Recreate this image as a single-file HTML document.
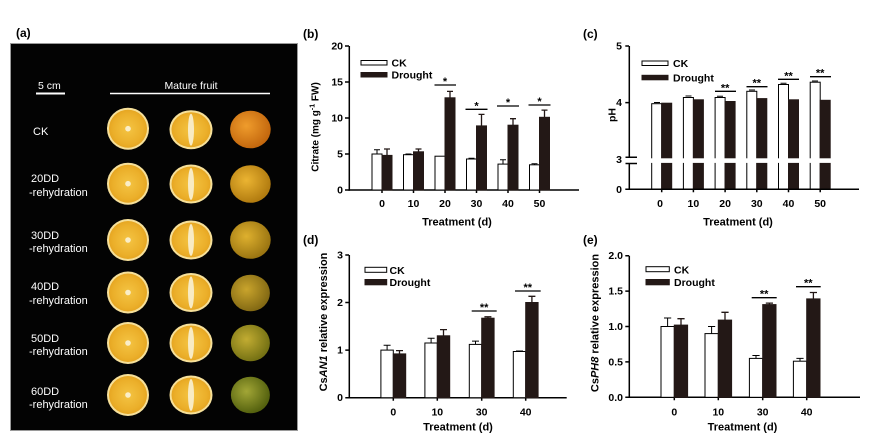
<!DOCTYPE html>
<html><head><meta charset="utf-8"><style>
html,body{margin:0;padding:0;background:#fff;}
svg{display:block;font-family:"Liberation Sans",Arial,sans-serif;}
.b{font-weight:bold;}
</style></head><body>
<svg width="869" height="446" viewBox="0 0 869 446" xmlns="http://www.w3.org/2000/svg">
<defs>
<radialGradient id="pulp" cx="50%" cy="50%" r="50%"><stop offset="0" stop-color="#f4c443"/><stop offset="0.8" stop-color="#ebaf2a"/><stop offset="1" stop-color="#e6a622"/></radialGradient>
<radialGradient id="w1" cx="40%" cy="40%" r="60%"><stop offset="0" stop-color="#ef9c2c"/><stop offset="1" stop-color="#c4680e"/></radialGradient>
<radialGradient id="w2" cx="40%" cy="40%" r="60%"><stop offset="0" stop-color="#ebb432"/><stop offset="1" stop-color="#b27c10"/></radialGradient>
<radialGradient id="w3" cx="40%" cy="40%" r="60%"><stop offset="0" stop-color="#deb02e"/><stop offset="1" stop-color="#9c7612"/></radialGradient>
<radialGradient id="w4" cx="40%" cy="40%" r="60%"><stop offset="0" stop-color="#c9a42c"/><stop offset="1" stop-color="#846a14"/></radialGradient>
<radialGradient id="w5" cx="40%" cy="40%" r="60%"><stop offset="0" stop-color="#c2ac32"/><stop offset="1" stop-color="#767214"/></radialGradient>
<radialGradient id="w6" cx="40%" cy="40%" r="60%"><stop offset="0" stop-color="#a2a636"/><stop offset="1" stop-color="#55620f"/></radialGradient>
<g id="h1"><circle r="21" fill="#f6e09a"/><circle r="19" fill="url(#pulp)"/><circle r="2.8" fill="#faeec8"/></g>
<g id="h2"><ellipse rx="21.5" ry="19.5" fill="#f6e09a"/><ellipse rx="19.5" ry="17.5" fill="url(#pulp)"/><ellipse rx="3" ry="16" fill="#f8ebc4"/></g>
</defs>
<rect width="869" height="446" fill="#fff"/>

<!-- Panel a -->
<text x="16" y="37" class="b" font-size="12">(a)</text>
<rect x="10.5" y="43.5" width="287" height="387" fill="#030303" stroke="#9a9a9a" stroke-width="1"/>
<text x="38" y="89" fill="#fff" font-size="10.5">5 cm</text>
<line x1="36" y1="93.5" x2="65" y2="93.5" stroke="#fff" stroke-width="2"/>
<text x="191" y="89" fill="#fff" font-size="10.5" text-anchor="middle">Mature fruit</text>
<line x1="110" y1="93.5" x2="270" y2="93.5" stroke="#fff" stroke-width="1.5"/>
<g fill="#fff" font-size="11">
<text x="33" y="135">CK</text>
<text x="31" y="182">20DD</text><text x="29" y="196">-rehydration</text>
<text x="31" y="239">30DD</text><text x="29" y="252">-rehydration</text>
<text x="31" y="290">40DD</text><text x="29" y="304">-rehydration</text>
<text x="31" y="342">50DD</text><text x="29" y="355">-rehydration</text>
<text x="31" y="395">60DD</text><text x="29" y="408">-rehydration</text>
</g>
<use href="#h1" x="128" y="128.7"/><use href="#h2" x="191" y="129.7"/><ellipse cx="250.4" cy="129.5" rx="20.3" ry="18.8" fill="url(#w1)"/>
<use href="#h1" x="128" y="183.7"/><use href="#h2" x="191" y="184"/><ellipse cx="250.4" cy="184" rx="20.3" ry="18.8" fill="url(#w2)"/>
<use href="#h1" x="128" y="240"/><use href="#h2" x="191" y="240"/><ellipse cx="250.4" cy="240" rx="20.3" ry="18.8" fill="url(#w3)"/>
<use href="#h1" x="128" y="292.5"/><use href="#h2" x="191" y="292.5"/><ellipse cx="250.4" cy="293" rx="19.5" ry="18.3" fill="url(#w4)"/>
<use href="#h1" x="128" y="343"/><use href="#h2" x="191" y="343"/><ellipse cx="250.4" cy="343" rx="19.5" ry="18.3" fill="url(#w5)"/>
<use href="#h1" x="128" y="395"/><use href="#h2" x="191" y="395"/><ellipse cx="250.4" cy="395" rx="19.5" ry="18.3" fill="url(#w6)"/>

<!-- Panel b -->
<text x="303" y="38" class="b" font-size="12">(b)</text>
<g stroke="#000" stroke-width="1.5" fill="none">
<line x1="349.3" y1="46" x2="349.3" y2="190.7"/>
<line x1="348.5" y1="190" x2="579" y2="190"/>
<path d="M345 46H349M345 82H349M345 118H349M345 154H349M345 190H349"/>
<path d="M382 190V193M413.5 190V193M445 190V193M476.5 190V193M508 190V193M539.5 190V193"/>
</g>
<g class="b" font-size="10.5" text-anchor="end">
<text x="343" y="49.5">20</text><text x="343" y="85.5">15</text><text x="343" y="121.5">10</text><text x="343" y="157.5">5</text><text x="343" y="193.5">0</text>
</g>
<g class="b" font-size="10.5" text-anchor="middle">
<text x="382" y="207">0</text><text x="413.5" y="207">10</text><text x="445" y="207">20</text><text x="476.5" y="207">30</text><text x="508" y="207">40</text><text x="539.5" y="207">50</text>
<text x="457" y="225.5" font-size="11">Treatment (d)</text>
</g>
<text transform="rotate(-90 318.5 127)" x="318.5" y="127" class="b" font-size="10" text-anchor="middle">Citrate (mg g<tspan font-size="7" dy="-4">-1</tspan><tspan dy="4"> FW)</tspan></text>
<g stroke="#000" stroke-width="1">
<rect x="372" y="154" width="10" height="36" fill="#fff"/>
<rect x="403.5" y="154.7" width="10" height="35.3" fill="#fff"/>
<rect x="435" y="156.2" width="10" height="33.8" fill="#fff"/>
<rect x="466.5" y="159" width="10" height="31" fill="#fff"/>
<rect x="498" y="164.1" width="10" height="25.9" fill="#fff"/>
<rect x="529.5" y="164.8" width="10" height="25.2" fill="#fff"/>
<path d="M377 154V149.7M374 149.7H380M408.5 154.7V154M405.5 154H411.5M471.5 159V158.3M468.5 158.3H474.5M503 164.1V159.8M500 159.8H506M534.5 164.8V163.7M531.5 163.7H537.5" fill="none"/>
<g fill="#231816" stroke="#231816">
<rect x="382" y="155.4" width="10" height="34.6"/>
<rect x="413.5" y="151.8" width="10" height="38.2"/>
<rect x="445" y="97.8" width="10" height="92.2"/>
<rect x="476.5" y="125.9" width="10" height="64.1"/>
<rect x="508" y="125.2" width="10" height="64.8"/>
<rect x="539.5" y="117.3" width="10" height="72.7"/>
</g>
<path d="M387 155.4V149M384 149H390M418.5 151.8V149M415.5 149H421.5M450 97.8V91.4M447 91.4H453M481.5 125.9V114.4M478.5 114.4H484.5M513 125.2V118.7M510 118.7H516M544.5 117.3V110.1M541.5 110.1H547.5" fill="none" stroke="#231816" stroke-width="1.3"/>
<path d="M434.5 85H456M465.5 109.3H487.5M497 106H519M528.5 105H550.5" stroke-width="1.3"/>
</g>
<g class="b" font-size="11" text-anchor="middle">
<text x="445" y="85">*</text><text x="476.5" y="109.3">*</text><text x="508" y="106">*</text><text x="539.5" y="105">*</text>
</g>
<rect x="361" y="60.5" width="26" height="4.5" fill="#fff" stroke="#000" stroke-width="1"/>
<rect x="361" y="72.5" width="26" height="4.5" fill="#231816" stroke="#231816" stroke-width="1"/>
<g class="b" font-size="10.5"><text x="391.5" y="66.5">CK</text><text x="391.5" y="78.5">Drought</text></g>

<!-- Panel c -->
<text x="583" y="38" class="b" font-size="12">(c)</text>
<g stroke="#000" stroke-width="1">
<rect x="651.7" y="103.7" width="10" height="85.6" fill="#fff"/>
<rect x="683.4" y="97.5" width="10" height="91.8" fill="#fff"/>
<rect x="715.1" y="97.5" width="10" height="91.8" fill="#fff"/>
<rect x="746.8" y="91.3" width="10" height="98" fill="#fff"/>
<rect x="778.5" y="84.5" width="10" height="104.8" fill="#fff"/>
<rect x="810.2" y="82.2" width="10" height="107.1" fill="#fff"/>
<g fill="#231816" stroke="#231816">
<rect x="661.7" y="103.2" width="10" height="86.1"/>
<rect x="693.4" y="99.8" width="10" height="89.5"/>
<rect x="725.1" y="101.5" width="10" height="87.8"/>
<rect x="756.8" y="98.6" width="10" height="90.7"/>
<rect x="788.5" y="99.8" width="10" height="89.5"/>
<rect x="820.2" y="100.3" width="10" height="89"/>
</g>
<path d="M654 102.5H660M685.5 96H691.5M717 96.3H723M749 90H755M780.5 83.2H786.5M812 81H818" fill="none"/>
<path d="M715 91.3H736M746.5 86.7H767.5M778 79.3H799M810 76.7H831" fill="none" stroke-width="1.3"/>
</g>
<rect x="640" y="158.3" width="200" height="4.6" fill="#fff"/>
<g stroke="#000" stroke-width="1.5" fill="none">
<line x1="629.3" y1="46" x2="629.3" y2="157.3"/>
<line x1="629.3" y1="163.5" x2="629.3" y2="190"/>
<line x1="628.5" y1="189.3" x2="859" y2="189.3"/>
<path d="M625.5 157.3H637M625.5 163.5H637"/>
<path d="M625.3 46H629M625.3 102.6H629M625.3 189.3H629"/>
<path d="M661.7 189.3V192.3M693.4 189.3V192.3M725.1 189.3V192.3M756.8 189.3V192.3M788.5 189.3V192.3M820.2 189.3V192.3"/>
</g>
<g class="b" font-size="10.5" text-anchor="end">
<text x="622" y="49.5">5</text><text x="622" y="106">4</text><text x="622" y="163">3</text><text x="622" y="193">0</text>
</g>
<g class="b" font-size="10.5" text-anchor="middle">
<text x="660" y="207">0</text><text x="693.4" y="207">10</text><text x="725.1" y="207">20</text><text x="756.8" y="207">30</text><text x="788.5" y="207">40</text><text x="820.2" y="207">50</text>
<text x="738" y="225.5" font-size="11">Treatment (d)</text>
</g>
<text transform="rotate(-90 615.5 115)" x="615.5" y="115" class="b" font-size="10.5" text-anchor="middle">pH</text>
<g class="b" font-size="11" text-anchor="middle">
<text x="725.1" y="91.3">**</text><text x="756.8" y="86.7">**</text><text x="788.5" y="79.3">**</text><text x="820.2" y="76.7">**</text>
</g>
<rect x="642" y="61" width="26" height="4.5" fill="#fff" stroke="#000" stroke-width="1"/>
<rect x="642" y="75.3" width="26" height="4.5" fill="#231816" stroke="#231816" stroke-width="1"/>
<g class="b" font-size="10.5"><text x="673" y="67">CK</text><text x="673" y="81.3">Drought</text></g>

<!-- Panel d -->
<text x="303" y="244" class="b" font-size="12">(d)</text>
<g stroke="#000" stroke-width="1.5" fill="none">
<line x1="349.3" y1="255" x2="349.3" y2="398.4"/>
<line x1="348.5" y1="397.7" x2="566.7" y2="397.7"/>
<path d="M345.3 255H349M345.3 302.5H349M345.3 350.1H349M345.3 397.7H349"/>
<path d="M393.3 397.7V400.7M437.3 397.7V400.7M481.7 397.7V400.7M525.7 397.7V400.7"/>
</g>
<g class="b" font-size="10.5" text-anchor="end">
<text x="343" y="258.5">3</text><text x="343" y="306">2</text><text x="343" y="353.6">1</text><text x="343" y="401.2">0</text>
</g>
<g class="b" font-size="10.5" text-anchor="middle">
<text x="393.3" y="415.5">0</text><text x="437.3" y="415.5">10</text><text x="481.7" y="415.5">30</text><text x="525.7" y="415.5">40</text>
<text x="458" y="430.5" font-size="11">Treatment (d)</text>
</g>
<text transform="rotate(-90 327 322)" x="327" y="322" class="b" font-size="11" text-anchor="middle">Cs<tspan font-style="italic">AN1</tspan> relative expression</text>
<g stroke="#000" stroke-width="1">
<rect x="380.9" y="350.1" width="12.4" height="47.6" fill="#fff"/>
<rect x="424.9" y="343" width="12.4" height="54.7" fill="#fff"/>
<rect x="469.3" y="344.4" width="12.4" height="53.3" fill="#fff"/>
<rect x="513.3" y="351.5" width="12.4" height="46.2" fill="#fff"/>
<path d="M387.1 350.1V345.3M383.6 345.3H390.6M431.1 343V338.2M427.6 338.2H434.6M475.5 344.4V341.1M472 341.1H479M519.5 351.5V351M516 351H523" fill="none"/>
<g fill="#231816" stroke="#231816">
<rect x="393.3" y="353.9" width="12.4" height="43.8"/>
<rect x="437.3" y="335.8" width="12.4" height="61.9"/>
<rect x="481.7" y="318.2" width="12.4" height="79.5"/>
<rect x="525.7" y="302.5" width="12.4" height="95.2"/>
</g>
<path d="M399.5 353.9V350.6M396 350.6H403M443.5 335.8V329.6M440 329.6H447M487.9 318.2V316.8M484.4 316.8H491.4M531.9 302.5V296.3M528.4 296.3H535.4" fill="none" stroke="#231816" stroke-width="1.3"/>
<path d="M471.7 311H496.7M515 291H540.7" stroke-width="1.3"/>
</g>
<g class="b" font-size="11" text-anchor="middle">
<text x="484.2" y="311">**</text><text x="527.8" y="291">**</text>
</g>
<rect x="365" y="267.3" width="21.7" height="5" fill="#fff" stroke="#000" stroke-width="1"/>
<rect x="365" y="279.5" width="21.7" height="5.3" fill="#231816" stroke="#231816" stroke-width="1"/>
<g class="b" font-size="10.5"><text x="389.5" y="274">CK</text><text x="389.5" y="286">Drought</text></g>

<!-- Panel e -->
<text x="583" y="244" class="b" font-size="12">(e)</text>
<g stroke="#000" stroke-width="1.5" fill="none">
<line x1="629.3" y1="255.7" x2="629.3" y2="398"/>
<line x1="628.5" y1="397.3" x2="860" y2="397.3"/>
<path d="M625.3 255.7H629M625.3 291.1H629M625.3 326.5H629M625.3 361.9H629M625.3 397.3H629"/>
<path d="M674.3 397.3V400.3M718.3 397.3V400.3M762.7 397.3V400.3M806.7 397.3V400.3"/>
</g>
<g class="b" font-size="10.5" text-anchor="end">
<text x="623" y="259.2">2.0</text><text x="623" y="294.6">1.5</text><text x="623" y="330">1.0</text><text x="623" y="365.4">0.5</text><text x="623" y="400.8">0.0</text>
</g>
<g class="b" font-size="10.5" text-anchor="middle">
<text x="674.3" y="415.5">0</text><text x="718.3" y="415.5">10</text><text x="762.7" y="415.5">30</text><text x="806.7" y="415.5">40</text>
<text x="742.5" y="430.5" font-size="11">Treatment (d)</text>
</g>
<text transform="rotate(-90 598.5 323)" x="598.5" y="323" class="b" font-size="11" text-anchor="middle">Cs<tspan font-style="italic">PH8</tspan> relative expression</text>
<g stroke="#000" stroke-width="1">
<rect x="661" y="326.5" width="13.3" height="70.8" fill="#fff"/>
<rect x="705" y="333.6" width="13.3" height="63.7" fill="#fff"/>
<rect x="749.4" y="358.4" width="13.3" height="38.9" fill="#fff"/>
<rect x="793.4" y="361.2" width="13.3" height="36.1" fill="#fff"/>
<path d="M667.6 326.5V318M664 318H671.2M711.6 333.6V326.5M708 326.5H715.2M756 358.4V355.5M752.4 355.5H759.6M800 361.2V358.4M796.4 358.4H803.6" fill="none"/>
<g fill="#231816" stroke="#231816">
<rect x="674.3" y="325.1" width="13.3" height="72.2"/>
<rect x="718.3" y="320.1" width="13.3" height="77.2"/>
<rect x="762.7" y="304.6" width="13.3" height="92.7"/>
<rect x="806.7" y="298.9" width="13.3" height="98.4"/>
</g>
<path d="M681 325.1V318.7M677.4 318.7H684.6M725 320.1V312.3M721.4 312.3H728.6M769.4 304.6V303.1M765.8 303.1H773M813.4 298.9V292.5M809.8 292.5H817" fill="none" stroke="#231816" stroke-width="1.3"/>
<path d="M751.7 297.7H776.7M796 286.7H820.7" stroke-width="1.3"/>
</g>
<g class="b" font-size="11" text-anchor="middle">
<text x="764.2" y="297.7">**</text><text x="808.3" y="286.7">**</text>
</g>
<rect x="646" y="266.7" width="23.3" height="5" fill="#fff" stroke="#000" stroke-width="1"/>
<rect x="646" y="279.5" width="23.3" height="5.3" fill="#231816" stroke="#231816" stroke-width="1"/>
<g class="b" font-size="10.5"><text x="674" y="273.5">CK</text><text x="674" y="286">Drought</text></g>
</svg>
</body></html>
